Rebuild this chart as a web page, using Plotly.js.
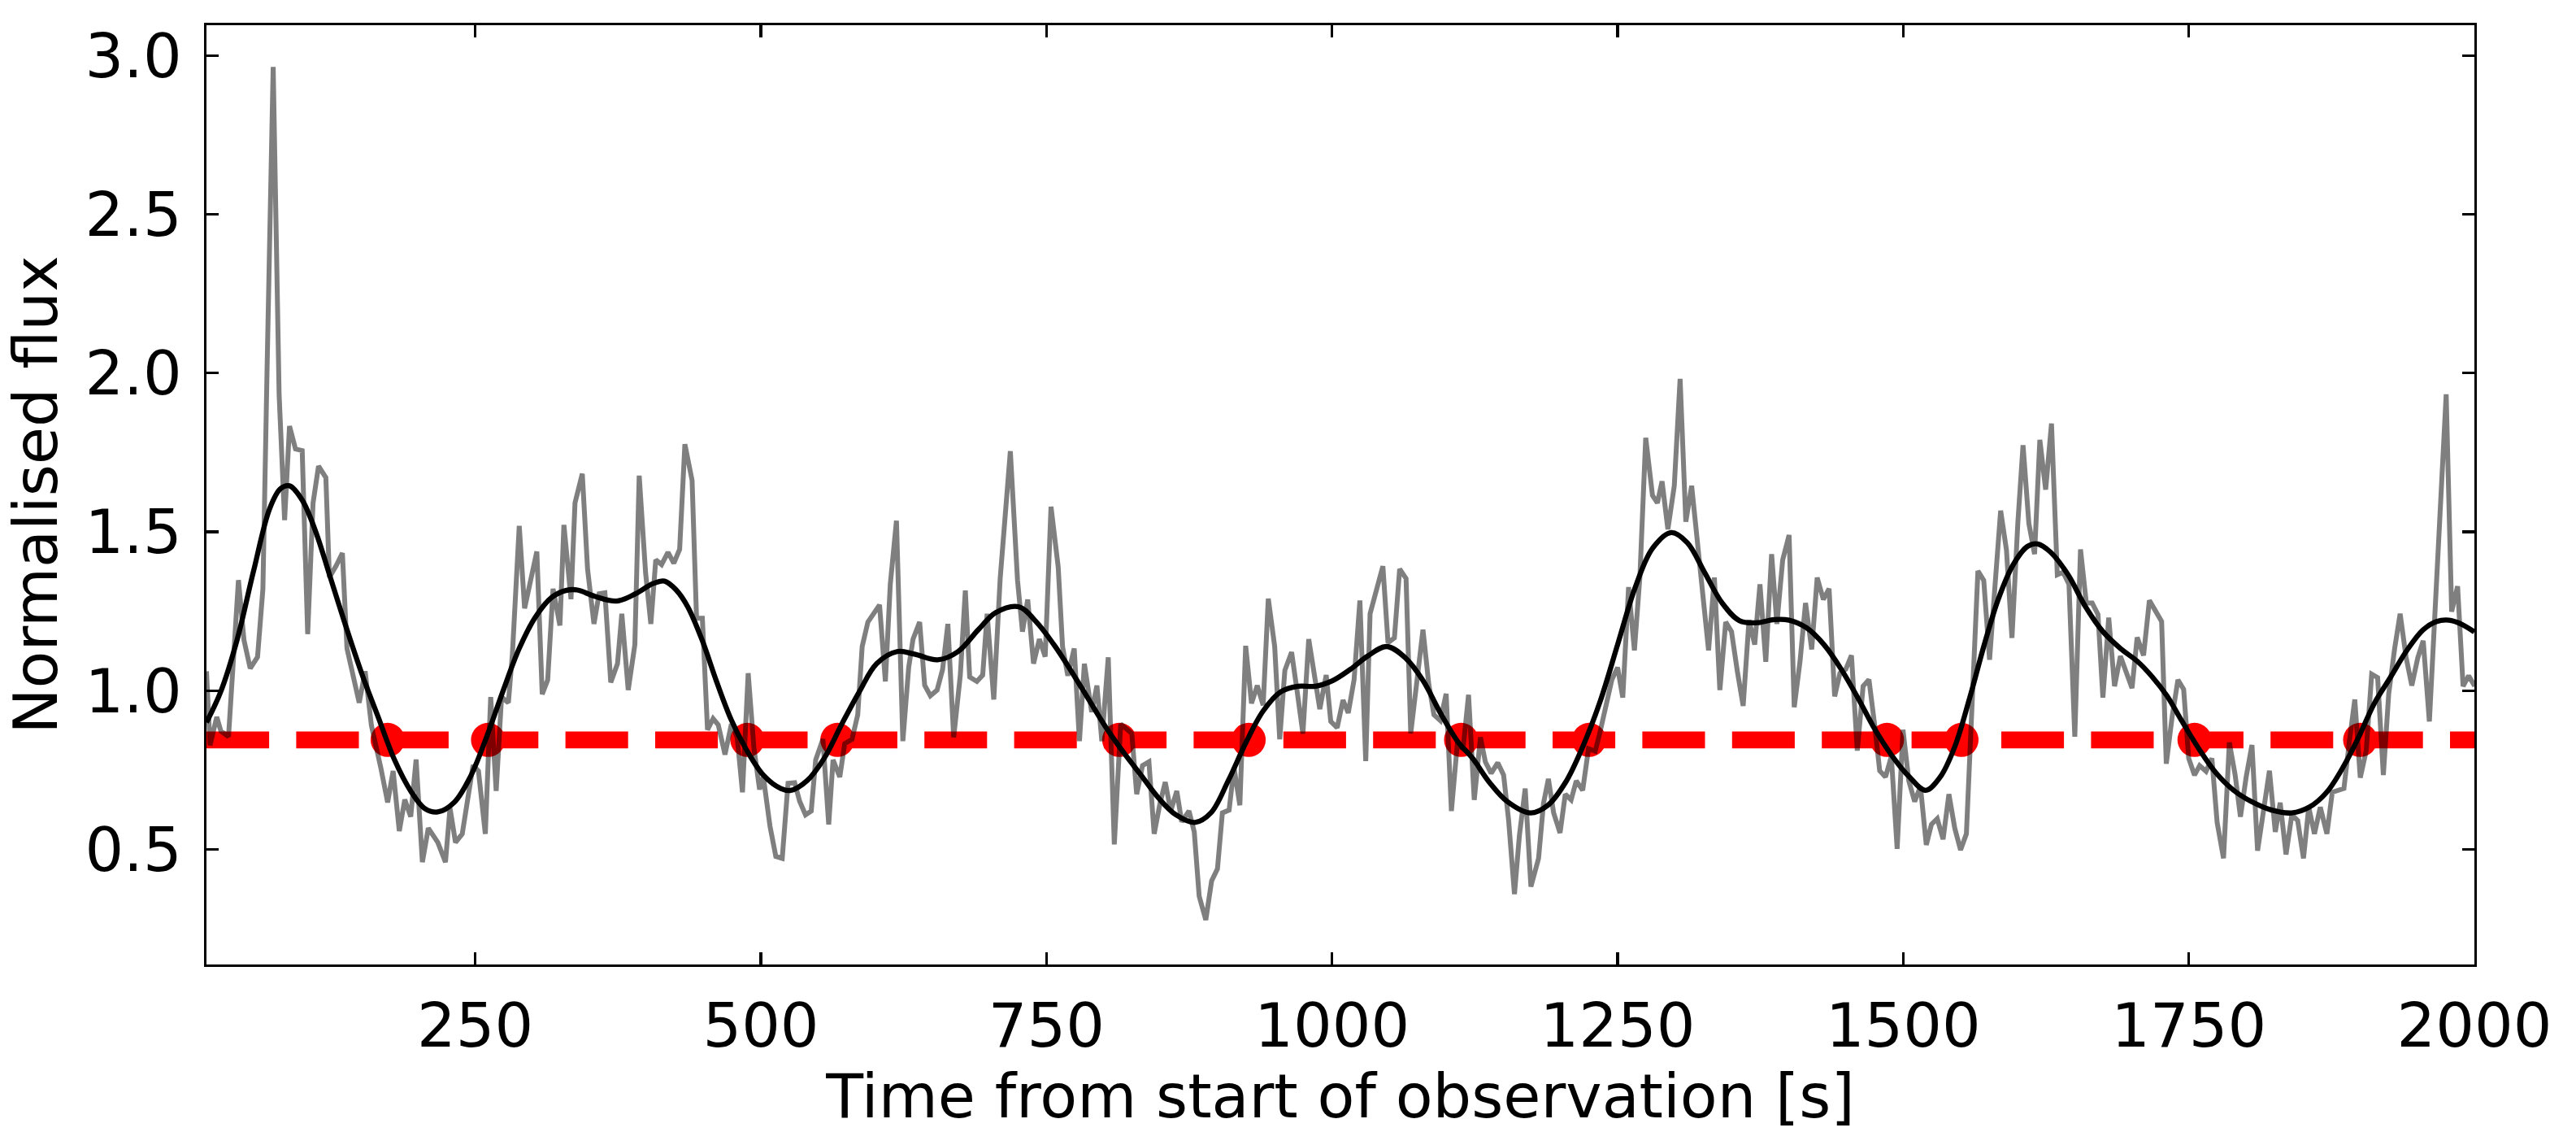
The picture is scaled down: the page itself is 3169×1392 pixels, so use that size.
<!DOCTYPE html>
<html>
<head>
<meta charset="utf-8">
<script src="https://cdn.plot.ly/plotly-3.0.1.min.js"></script>
<style>html,body{margin:0;padding:0;background:#fff;}#chart{width:3169px;height:1392px;}</style>
</head>
<body>
<div id="chart"></div>
<script>
// Raw light curve (time [s], normalised flux)
const rawTime = [14.7,17.8,23.7,27.3,34.0,42.7,47.5,53.0,59.4,64.1,67.7,73.1,78.3,83.1,87.4,92.6,98.5,103.3,108.0,112.8,119.2,122.3,128.2,133.7,137.7,148.4,153.6,159.1,167.4,173.3,178.1,183.5,188.3,193.5,198.2,203.7,208.9,217.2,223.9,227.9,232.7,238.6,248.1,252.8,258.8,263.5,268.3,273.0,279.0,282.5,288.5,293.2,303.9,308.6,313.4,318.1,324.1,327.6,
333.8,337.3,343.7,348.3,353.9,358.4,363.5,368.6,374.5,378.3,383.9,389.7,393.5,399.1,403.7,408.0,413.1,418.7,423.8,428.9,433.5,439.8,443.7,448.8,453.3,458.2,462.7,468.6,474.2,479.3,483.9,488.9,494.0,498.9,502.2,508.0,513.1,518.7,523.8,529.6,534.0,539.1,544.1,548.0,554.3,559.4,563.2,569.1,573.4,579.8,584.8,588.7,593.7,598.8,603.9,609.0,613.3,618.7,624.3,629.4,633.2,639.0,643.4,648.4,654.3,659.1,663.7,668.8,674.6,679.0,682.8,689.1,694.2,698.1,703.9,709.5,713.3,718.4,
724.7,729.0,733.6,738.7,743.8,748.9,754.0,760.3,764.1,768.7,774.3,778.9,783.2,789.6,794.2,798.5,804.1,809.4,815.0,820.1,824.7,829.0,834.1,839.7,844.3,849.4,854.0,858.8,864.1,868.4,874.8,879.4,883.7,889.5,894.6,899.7,904.0,909.9,914.2,919.3,924.4,929.5,934.6,939.7,944.2,949.8,954.2,958.7,964.6,969.4,974.5,979.6,984.2,989.3,994.9,998.9,1004.5,1009.6,1014.2,1019.3,1024.4,1029.5,1033.3,1038.9,1044.5,1049.0,1054.6,1059.2,1064.8,1068.9,1074.5,1079.6,1084.7,1089.2,1094.8,1099.9,1104.5,1109.6,1114.7,
1119.5,1124.5,1129.9,1134.2,1139.3,1145.1,1150.2,1154.6,1159.7,1164.0,1169.1,1174.1,1180.8,1185.1,1189.4,1194.0,1199.6,1204.2,1209.3,1213.8,1219.4,1224.5,1230.4,1234.7,1239.8,1244.9,1250.0,1254.5,1259.6,1264.7,1269.5,1274.6,1280.5,1284.8,1288.9,1294.0,1299.6,1304.7,1309.7,1314.8,1319.9,1325.0,1329.6,1334.7,1339.5,1344.6,1349.7,1354.8,1359.9,1365.0,1370.0,1374.6,1379.7,1384.8,1389.4,1394.5,1400.1,1404.6,1409.7,1414.5,1419.9,1424.7,1430.1,1435.1,1440.0,1444.6,1449.7,1454.7,1459.8,1464.9,1470.0,1475.1,1479.4,1484.5,1489.6,1494.7,1499.8,
1504.9,1510.0,1515.1,1520.2,1524.7,1529.8,1534.9,1540.0,1545.1,1550.2,1555.3,1560.4,1565.4,1570.5,1575.6,1580.2,1585.3,1590.4,1595.2,1600.3,1604.9,1610.0,1615.0,1619.6,1624.7,1629.8,1634.9,1640.0,1645.1,1650.2,1655.2,1660.3,1665.4,1670.5,1674.8,1679.9,1685.0,1690.1,1695.2,1700.3,1704.8,1710.4,1715.5,1720.6,1726.2,1730.3,1735.4,1740.5,1745.5,1749.9,1755.0,1759.5,1765.1,1770.2,1774.8,1780.4,1785.5,1790.6,1795.2,1800.2,1805.3,1810.2,1815.5,1820.6,1825.7,1830.0,1835.1,1840.2,1845.3,1850.4,1855.0,1860.0,1865.1,
1870.9,1875.6,1881.1,1885.8,1890.6,1895.3,1900.1,1905.3,1910.1,1915.3,1920.3,1925.0,1930.2,1935.0,1940.2,1945.2,1950.4,1955.2,1960.6,1965.6,1970.4,1975.3,1980.1,1985.3,1990.1,1995.0,2000.3];
const rawFlux = [1.061,0.828,0.917,0.873,0.855,1.348,1.160,1.070,1.106,1.320,2.003,2.964,1.932,1.537,1.833,1.761,1.756,1.178,1.591,1.707,1.671,1.357,1.393,1.433,1.133,0.962,1.061,0.890,0.756,0.648,0.747,0.558,0.657,0.603,0.783,0.460,0.567,0.522,0.460,0.630,0.522,0.549,0.765,0.747,0.549,0.980,0.684,0.980,0.962,1.115,1.519,1.259,1.438,0.989,1.034,1.321,1.205,1.522,
1.288,1.591,1.683,1.383,1.210,1.305,1.308,1.026,1.085,1.242,1.002,1.145,1.677,1.371,1.210,1.412,1.397,1.436,1.401,1.445,1.776,1.662,1.228,1.228,0.877,0.912,0.892,0.799,0.895,0.853,0.680,1.055,0.817,0.689,0.728,0.573,0.478,0.472,0.708,0.710,0.651,0.609,0.621,0.782,0.847,0.579,0.782,0.728,0.833,0.847,0.924,1.139,1.216,1.242,1.270,1.029,1.335,1.535,0.841,1.073,1.162,1.216,1.017,0.984,1.002,1.067,1.210,0.853,1.049,1.315,1.043,1.029,1.049,1.242,0.972,1.353,1.537,1.754,
1.347,1.186,1.287,1.085,1.162,1.107,1.579,1.389,1.139,1.047,1.133,0.841,1.085,0.933,1.016,0.841,1.105,0.516,0.895,0.877,0.865,0.674,0.764,0.776,0.549,0.645,0.712,0.621,0.684,0.587,0.621,0.555,0.353,0.278,0.401,0.439,0.615,0.624,0.758,0.639,1.141,0.960,1.016,0.954,1.290,1.139,0.847,1.064,1.121,0.999,0.865,1.162,1.061,0.942,1.049,0.903,0.883,0.970,0.930,1.034,1.284,0.778,1.242,1.323,1.392,1.151,1.166,1.383,1.353,0.865,1.034,1.192,1.020,0.924,0.906,0.990,0.621,0.829,0.817,
0.987,0.656,0.853,0.776,0.740,0.773,0.734,0.591,0.359,0.543,0.692,0.383,0.472,0.645,0.722,0.615,0.552,0.674,0.656,0.716,0.686,0.817,0.809,0.871,0.949,1.034,1.073,0.978,1.326,1.127,1.359,1.796,1.615,1.591,1.659,1.508,1.645,1.982,1.532,1.645,1.466,1.276,1.127,1.356,1.002,1.216,1.186,1.061,0.952,1.222,1.145,1.335,1.091,1.430,1.210,1.412,1.490,0.948,1.093,1.276,1.130,1.356,1.287,1.321,0.982,1.055,1.067,1.111,0.811,1.014,1.035,0.889,0.748,0.728,0.793,0.502,0.877,
0.716,0.651,0.698,0.514,0.579,0.597,0.532,0.674,0.567,0.498,0.549,0.966,1.377,1.347,1.097,1.323,1.567,1.442,1.166,1.526,1.773,1.526,1.430,1.790,1.633,1.841,1.365,1.373,1.335,0.855,1.445,1.276,1.276,1.240,0.978,1.230,1.014,1.109,1.055,1.008,1.168,1.111,1.284,1.252,1.218,0.770,0.918,1.034,1.004,0.787,0.734,0.764,0.746,0.787,0.585,0.472,0.837,0.734,0.603,0.728,0.829,0.496,0.615,0.748,0.555,0.647,0.484,0.609,0.591,0.472,0.633,0.549,0.633,
0.549,0.680,0.686,0.692,0.841,0.972,0.726,0.811,1.052,1.041,0.734,0.990,1.133,1.242,1.105,1.016,1.103,1.157,0.903,1.260,1.600,1.933,1.249,1.329,1.014,1.047,1.014];

// Smoothed light curve
const smoothTime = [14.7,27.3,41.5,55.8,70.0,79.5,87.4,98.5,110.4,122.3,136.5,150.8,165.0,179.2,193.5,205.4,217.2,231.5,245.7,260.0,274.2,288.5,302.7,317.0,330.0,339.4,354.6,373.7,390.2,405.5,415.7,425.9,436.0,448.8,461.5,474.2,486.9,502.2,517.4,526.3,540.3,555.6,570.9,586.1,601.4,619.2,634.5,654.8,672.6,690.4,705.7,726.0,741.2,756.5,771.8,787.0,802.3,817.6,832.8,848.1,863.3,879.9,893.9,909.1,924.4,939.7,954.9,970.2,985.4,1000.7,1016.0,1031.2,1047.8,1064.3,1079.6,1094.8,1110.0,1122.8,1138.0,1153.3,1173.6,1188.9,1204.2,1219.4,1234.7,1250.0,1265.2,1280.5,1297.0,1311.0,1326.3,1341.5,1356.8,1372.1,1387.3,1400.1,1415.3,1430.6,1445.8,1461.1,1476.4,1491.6,1505.0,1519.6,1532.4,1545.1,1557.8,1570.5,1583.2,1596.0,1608.7,1617.6,1629.0,1644.3,1659.6,1674.8,1690.1,1705.4,1718.1,1730.8,1743.5,1758.8,1774.0,1789.3,1804.6,1822.4,1840.2,1855.4,1870.7,1886.0,1898.2,1912.4,1926.7,1940.9,1955.2,1967.0,1977.7,1988.4,2000.0];
const smoothFlux = [0.900,0.998,1.160,1.375,1.573,1.636,1.645,1.600,1.500,1.366,1.205,1.052,0.917,0.783,0.684,0.630,0.618,0.648,0.729,0.855,0.998,1.133,1.232,1.294,1.316,1.317,1.297,1.282,1.305,1.337,1.345,1.317,1.264,1.157,1.026,0.907,0.817,0.734,0.692,0.686,0.716,0.788,0.895,0.996,1.085,1.123,1.115,1.097,1.123,1.192,1.246,1.264,1.216,1.145,1.061,0.972,0.883,0.805,0.734,0.662,0.609,0.585,0.615,0.716,0.835,0.936,0.996,1.014,1.014,1.032,1.067,1.109,1.139,1.103,1.032,0.930,0.840,0.788,0.710,0.651,0.615,0.639,0.710,0.823,0.966,1.145,1.323,1.448,1.498,1.466,1.371,1.276,1.220,1.214,1.224,1.222,1.198,1.145,1.067,0.972,0.871,0.788,0.730,0.686,0.728,0.823,0.972,1.139,1.288,1.395,1.454,1.462,1.436,1.365,1.264,1.186,1.133,1.091,1.043,0.984,0.907,0.817,0.740,0.686,0.651,0.624,0.615,0.633,0.680,0.765,0.850,0.960,1.043,1.127,1.192,1.218,1.222,1.210,1.185];

// Threshold level and the times where the smoothed curve crosses it
const threshold = 0.845;
const crossingTimes = [173.3,261.2,488.2,567.0,813.7,927.0,1113.0,1225.0,1485.8,1551.0,1755.0,1900.0];

const xMin = rawTime[0];
const xMax = 2000;
const xTicks = [250,500,750,1000,1250,1500,1750,2000];
const yTicks = [0.5,1.0,1.5,2.0,2.5,3.0];
const yTickText = ['0.5','1.0','1.5','2.0','2.5','3.0'];

const FONT = 'DejaVu Sans, Verdana, sans-serif';

const traces = [
  {x:[xMin,xMax], y:[threshold,threshold], mode:'lines', type:'scatter',
   line:{color:'#ff0000', width:20.8, dash:'77.1px,33.3px'}, hoverinfo:'skip', showlegend:false},
  {x:crossingTimes, y:crossingTimes.map(()=>threshold), mode:'markers', type:'scatter',
   marker:{color:'#ff0000', size:42, line:{width:0}}, showlegend:false},
  {x:rawTime, y:rawFlux, mode:'lines', type:'scatter',
   line:{color:'rgba(0,0,0,0.5)', width:6}, showlegend:false},
  {x:smoothTime, y:smoothFlux, mode:'lines', type:'scatter',
   line:{color:'#000000', width:6.3, shape:'spline', smoothing:1}, showlegend:false}
];

const axisCommon = {
  showgrid:false, zeroline:false, showline:true, linecolor:'#000', linewidth:3.3,
  mirror:'ticks', ticks:'inside', ticklen:14.6, tickwidth:3.3, tickcolor:'#000',
  tickfont:{family:FONT, size:75, color:'#000'}
};

const layout = {
  width:3169, height:1392,
  margin:{l:254, r:125, t:31, b:206, pad:0},
  paper_bgcolor:'#fff', plot_bgcolor:'#fff',
  font:{family:FONT, color:'#000'},
  xaxis: Object.assign({}, axisCommon, {
    range:[xMin, xMax], tickmode:'array', tickvals:xTicks, ticktext:xTicks.map(String),
    ticklabelstandoff:8,
    title:{text:'Time from start of observation [s]', font:{family:FONT, size:75, color:'#000'}, standoff:0},
    automargin:true
  }),
  yaxis: Object.assign({}, axisCommon, {
    range:[0.1377, 3.0955], tickmode:'array', tickvals:yTicks, ticktext:yTickText,
    ticklabelstandoff:12,
    title:{text:'Normalised flux', font:{family:FONT, size:75, color:'#000'}, standoff:18},
    automargin:false
  }),
  showlegend:false
};

Plotly.newPlot('chart', traces, layout, {staticPlot:true, displayModeBar:false});
</script>
</body>
</html>
